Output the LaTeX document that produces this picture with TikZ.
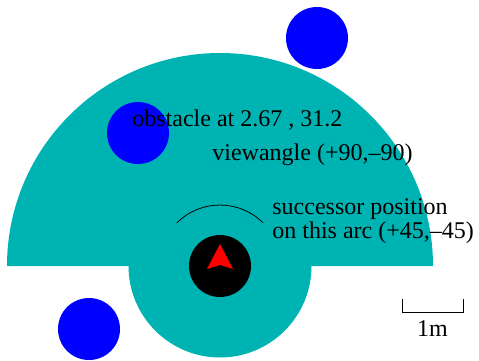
\documentclass[tikz,border=0pt]{standalone}
\usepackage{fontspec}
\setmainfont{Liberation Serif}
\usetikzlibrary{positioning}
\definecolor{viewteal}{HTML}{00B3B3}
\definecolor{obstblue}{HTML}{0000FF}
\tikzset{
  obstacle/.style={circle, fill=obstblue, minimum size=62pt, inner sep=0pt},
  labeltext/.style={anchor=base west, inner sep=0pt, font=\fontsize{24}{24}\selectfont},
}

\begin{document}
\begin{tikzpicture}[x=1pt, y=1pt, line width=0.8pt]
  \useasboundingbox (-220,-94) rectangle (259,266);
  % viewing area and successor area
  \fill[viewteal] (-213,0) arc[start angle=180, end angle=0, radius=213] -- cycle;
  \fill[viewteal] (-91.5,0) arc[start angle=180, end angle=360, radius=91.5] -- cycle;
  % robot
  \node[circle, fill=black, minimum size=62pt, inner sep=0pt] (robot) at (0,0) {};
  \fill[red] (0,22) -- (-13,-3) -- (0,1) -- (13,-3) -- cycle;
  \draw (43.1,43.1) arc[start angle=45, end angle=135, radius=61];
  % obstacles
  \node[obstacle] (obs1) at (97,228) {};
  \node[obstacle] (obs2) at (-82,133) {};
  \node[obstacle] (obs3) at (-131,-63) {};
  % labels
  \node[labeltext] (obslabel) at (-88,140) {obstacle at 2.67 , 31.2};
  \node[labeltext] (viewlabel) at (-8,106) {viewangle (+90,--90)};
  \node[labeltext] (succlabel) at (52,52) {successor position};
  \node[labeltext] (arclabel) at (52,28) {on this arc (+45,--45)};
  % scale bar
  \coordinate (barL) at (182,-46);
  \coordinate (barR) at (243,-46);
  \draw (barL) ++(0,13) -- (barL) -- (barR) -- ++(0,13);
  \node[labeltext, anchor=base] (scalelabel) at (212.5,-70) {1m};
\end{tikzpicture}
\end{document}
